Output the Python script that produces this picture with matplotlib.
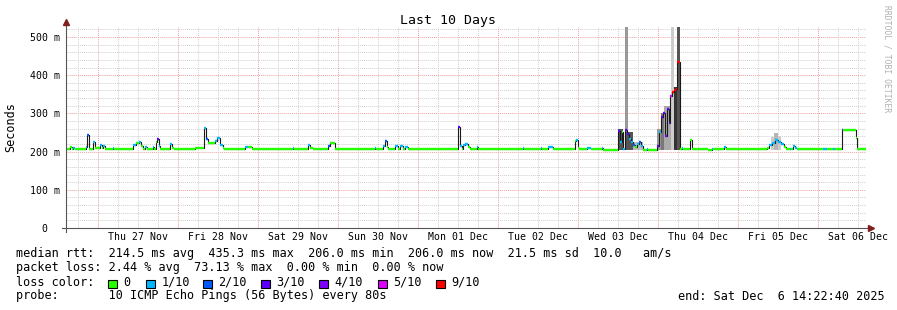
import matplotlib
matplotlib.use('Agg')
import matplotlib.pyplot as plt
from matplotlib.patches import Rectangle
from datetime import datetime, timedelta

plt.rcParams['font.family'] = 'DejaVu Sans Mono'

W, H = 897, 310
start = datetime(2025, 11, 26, 14, 22, 40)
span_h = 240

# median rtt as steps: start of step (hours after start), value (ms), pings lost (of 10)
step_h = [0.0, 1.2, 1.8, 2.1, 2.7, 6.0, 6.3, 6.9, 8.1, 8.7,
          10.2, 10.8, 11.1, 11.7, 14.1, 14.4, 20.1, 21.0, 21.9, 22.5,
          23.1, 23.7, 24.3, 26.1, 26.4, 27.0, 27.3, 27.9, 28.2, 31.2,
          31.8, 32.4, 38.7, 41.4, 42.0, 42.6, 44.7, 45.3, 46.2, 47.1,
          47.4, 53.7, 54.6, 55.8, 68.1, 68.4, 72.6, 73.2, 74.1, 78.6,
          79.2, 80.7, 92.7, 93.0, 95.1, 95.7, 96.3, 96.6, 98.7, 99.6,
          100.2, 101.1, 101.7, 102.6, 117.6, 118.2, 118.8, 119.1, 119.7, 120.6,
          121.2, 123.3, 123.6, 137.1, 137.4, 142.5, 142.8, 144.6, 146.1, 152.7,
          153.0, 153.6, 153.9, 156.3, 157.5, 160.8, 161.1, 165.6, 166.2, 166.8,
          167.1, 167.7, 168.3, 168.9, 169.5, 170.1, 170.7, 171.3, 171.9, 172.5,
          173.1, 174.3, 174.6, 177.3, 177.9, 178.5, 179.1, 179.7, 180.3, 180.9,
          181.2, 181.8, 182.4, 183.0, 183.3, 184.2, 184.8, 185.1, 187.2, 187.8,
          192.6, 193.8, 194.1, 197.4, 198.0, 210.3, 210.9, 211.8, 212.7, 213.6,
          214.5, 215.4, 216.0, 217.2, 217.5, 218.1, 218.7, 219.3, 227.1, 228.3,
          230.1, 230.7, 232.8, 233.1, 237.0, 237.3]
median_ms = [208, 211, 208, 209, 207, 212, 243, 208, 225, 209,
             216, 210, 214, 207, 210, 207, 218, 222, 226, 215,
             207, 212, 208, 211, 207, 225, 233, 214, 207, 220,
             210, 207, 210, 262, 232, 222, 228, 235, 218, 210,
             207, 211, 213, 207, 210, 207, 216, 210, 207, 214,
             223, 208, 210, 207, 214, 228, 212, 207, 214, 208,
             214, 208, 213, 207, 265, 215, 207, 218, 220, 212,
             207, 213, 207, 210, 207, 210, 207, 212, 207, 228,
             230, 210, 207, 209, 207, 209, 205, 255, 225, 250,
             207, 256, 245, 232, 225, 217, 212, 220, 224, 215,
             205, 207, 205, 215, 250, 290, 300, 240, 312, 275,
             345, 355, 360, 365, 435, 207, 209, 207, 230, 207,
             205, 207, 207, 212, 206, 210, 217, 223, 230, 226,
             219, 212, 207, 208, 207, 215, 210, 207, 208, 207,
             208, 206, 256, 256, 235, 207]
loss = [0, 0, 0, 1, 0, 1, 2, 0, 1, 0,
        1, 0, 1, 0, 1, 0, 1, 0, 1, 0,
        0, 1, 0, 1, 0, 0, 3, 1, 0, 1,
        0, 0, 0, 1, 2, 0, 1, 1, 1, 0,
        0, 1, 0, 0, 1, 0, 1, 0, 0, 2,
        0, 0, 1, 0, 1, 2, 0, 0, 1, 0,
        1, 0, 1, 0, 3, 1, 0, 1, 1, 0,
        0, 1, 0, 1, 0, 1, 0, 1, 0, 0,
        1, 0, 0, 1, 0, 1, 0, 3, 1, 0,
        1, 3, 3, 1, 1, 2, 0, 1, 2, 1,
        0, 1, 0, 3, 1, 3, 3, 4, 3, 4,
        5, 9, 9, 9, 9, 0, 1, 0, 0, 0,
        0, 1, 0, 1, 0, 0, 1, 1, 1, 1,
        1, 0, 0, 1, 0, 1, 1, 0, 1, 0,
        1, 0, 3, 0, 0, 0]

# smoke (spread of the pings) where it is visible
smoke_from_h = [165.6, 167.7, 168.0, 170.1, 177.3, 178.5, 179.4, 181.5, 182.4, 183.3,
                211.4, 212.4, 213.6]
smoke_to_h = [167.1, 168.6, 170.1, 173.1, 178.5, 179.4, 181.5, 182.4, 183.3, 184.2,
              212.4, 213.6, 214.5]
smoke_top_ms = [258, 560, 250, 226, 260, 300, 318, 560, 370, 560,
                238, 249, 240]
smoke_grey = ['#555555', '#999999', '#555555', '#bbbbbb', '#999999',
              '#777777', '#aaaaaa', '#cccccc', '#333333', '#555555',
              '#cccccc', '#b5b5b5', '#cccccc']
smoke_base_ms = 205

loss_keys = [0, 1, 2, 3, 4, 5, 9]
loss_names = ['0', '1/10', '2/10', '3/10', '4/10', '5/10', '9/10']
loss_cols = ['#26ff00', '#00b8ff', '#0059ff', '#5e00ff', '#7e00ff', '#dd00ff', '#ff0000']
col_of = dict(zip(loss_keys, loss_cols))

y_ticks = [0, 100, 200, 300, 400, 500]
y_labels = ['  0  ', '100 m', '200 m', '300 m', '400 m', '500 m']

assert len(step_h) == len(median_ms) == len(loss)


def fx(x):
    return x / W


def fy(y):
    return 1 - y / H


fig = plt.figure(figsize=(W / 100, H / 100), dpi=100)
ax = fig.add_axes([fx(66), 82 / H, 800 / W, 201 / H])
ax.set_xlim(0, span_h)
ax.set_ylim(0, 526)
for s in ax.spines.values():
    s.set_visible(False)

# grid
for v in range(20, 527, 20):
    c = '#f0a0a0' if v % 100 == 0 else '#cfcfcf'
    ax.axhline(v, color=c, lw=0.7, ls=(0, (1, 1)), zorder=1)
t = datetime(2025, 11, 26, 18)
while t < start + timedelta(hours=span_h):
    h = (t - start).total_seconds() / 3600
    c = '#f0a0a0' if t.hour == 0 else '#cfcfcf'
    ax.axvline(h, color=c, lw=0.7, ls=(0, (1, 1)), zorder=1)
    t += timedelta(hours=6)

# smoke
for a, b, top, g in zip(smoke_from_h, smoke_to_h, smoke_top_ms, smoke_grey):
    ax.bar(a, top - smoke_base_ms, width=b - a, bottom=smoke_base_ms,
           align='edge', color=g, lw=0, zorder=2)

# median line, colored by loss
ends = step_h[1:] + [span_h]
ax.step(step_h + [span_h], median_ms + [median_ms[-1]], where='post',
        color='#1a1a1a', lw=0.8, zorder=3)
ax.hlines(median_ms, step_h, ends, colors=[col_of[l] for l in loss],
          lw=1.7, zorder=4)

# ticks
noons = [datetime(2025, 11, 27, 12) + timedelta(days=k) for k in range(10)]
ax.set_xticks([(d - start).total_seconds() / 3600 for d in noons],
              [d.strftime('%a %d %b') for d in noons])
ax.set_yticks(y_ticks, y_labels)
ax.tick_params(axis='both', length=0, labelsize=7.1)
ax.tick_params(axis='x', pad=3)
ax.tick_params(axis='y', pad=4.3)

# axis lines with arrows
ax.plot([-4 / 800, 804 / 800], [0, 0], transform=ax.transAxes, color='#555555',
        lw=0.8, clip_on=False, zorder=5)
ax.plot([0, 0], [-4 / 201, 205 / 201], transform=ax.transAxes, color='#555555',
        lw=0.8, clip_on=False, zorder=5)
ax.plot(805 / 800, 0, marker='>', ms=4, color='#7f1f1f', transform=ax.transAxes,
        clip_on=False, zorder=6)
ax.plot(0, 206 / 201, marker='^', ms=4, color='#7f1f1f', transform=ax.transAxes,
        clip_on=False, zorder=6)

fig.text(fx(448), fy(24), 'Last 10 Days', ha='center', va='baseline', fontsize=9.5)
fig.text(fx(11), fy(127), 'Seconds', rotation=90, ha='center', va='center', fontsize=8.5)
fig.text(fx(887), fy(59), 'RRDTOOL / TOBI OETIKER', rotation=270, ha='center',
         va='center', fontsize=5.8, color='#b0b0b0')

fs = 8.5
fig.text(fx(15.5), fy(257.5),
         'median rtt:  214.5 ms avg  435.3 ms max  206.0 ms min  206.0 ms now  21.5 ms sd  10.0   am/s',
         fontsize=fs, va='baseline')
fig.text(fx(15.5), fy(271.5),
         'packet loss: 2.44 % avg  73.13 % max  0.00 % min  0.00 % now',
         fontsize=fs, va='baseline')
fig.text(fx(15.5), fy(285.5), 'loss color:', fontsize=fs, va='baseline')
box_x = [108, 146, 203, 261, 319, 378, 436]
for bx, name, col in zip(box_x, loss_names, loss_cols):
    fig.add_artist(Rectangle((fx(bx), fy(288)), 9 / W, 8 / H, transform=fig.transFigure,
                             facecolor=col, edgecolor='black', lw=0.8))
    fig.text(fx(bx + 15.5), fy(285.5), name, fontsize=fs, va='baseline')
fig.text(fx(15.5), fy(299.5), 'probe:       10 ICMP Echo Pings (56 Bytes) every 80s',
         fontsize=fs, va='baseline')
fig.text(fx(678), fy(299.5), 'end: Sat Dec  6 14:22:40 2025', fontsize=fs, va='baseline')

fig.savefig('out.png', dpi=100, facecolor='white')
